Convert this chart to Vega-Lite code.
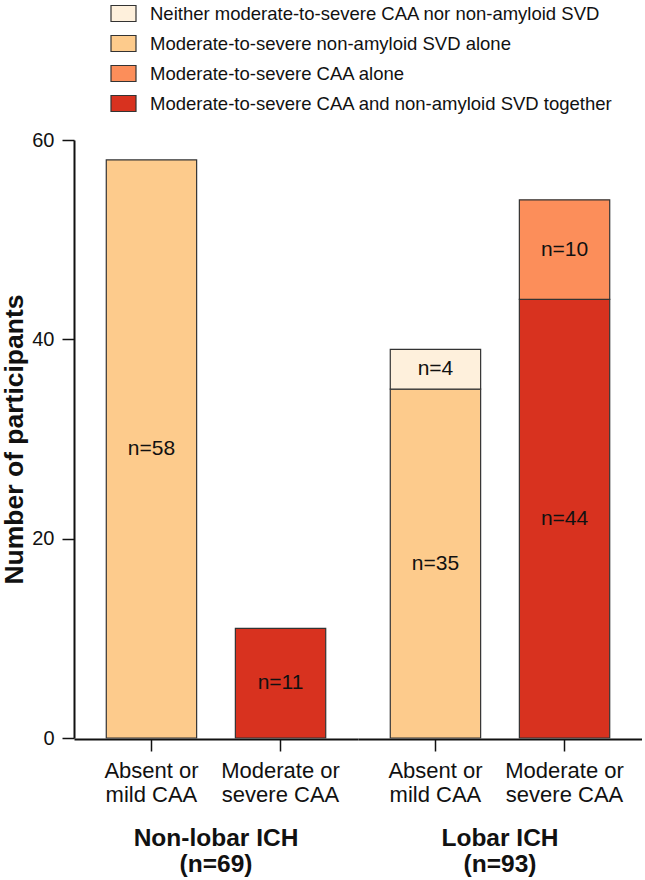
{
  "$schema": "https://vega.github.io/schema/vega-lite/v6.json",
  "padding": {"left": 1, "top": 0, "right": 0, "bottom": 0},
  "background": "white",
  "config": {
    "font": "Liberation Sans",
    "view": {"stroke": null},
    "legend": {
      "orient": "none",
      "legendX": 36,
      "legendY": -140,
      "title": null,
      "labelFont": "Liberation Sans",
      "labelFontSize": 18.5,
      "labelColor": "#111",
      "labelLimit": 0,
      "labelOffset": 13,
      "rowPadding": 6,
      "symbolType": "M-1,-0.64H1V0.64H-1Z",
      "symbolSize": 625,
      "symbolStrokeColor": "#333",
      "symbolStrokeWidth": 1.2,
      "symbolOpacity": 1
    }
  },
  "data": {
    "values": [
      {"group": "Non-lobar ICH|(n=69)", "caa": "Absent or|mild CAA", "cat": "Moderate-to-severe non-amyloid SVD alone", "n": 58, "label": "n=58"},
      {"group": "Non-lobar ICH|(n=69)", "caa": "Moderate or|severe CAA", "cat": "Moderate-to-severe CAA and non-amyloid SVD together", "n": 11, "label": "n=11"},
      {"group": "Lobar ICH|(n=93)", "caa": "Absent or|mild CAA", "cat": "Moderate-to-severe non-amyloid SVD alone", "n": 35, "label": "n=35"},
      {"group": "Lobar ICH|(n=93)", "caa": "Absent or|mild CAA", "cat": "Neither moderate-to-severe CAA nor non-amyloid SVD", "n": 4, "label": "n=4"},
      {"group": "Lobar ICH|(n=93)", "caa": "Moderate or|severe CAA", "cat": "Moderate-to-severe CAA and non-amyloid SVD together", "n": 44, "label": "n=44"},
      {"group": "Lobar ICH|(n=93)", "caa": "Moderate or|severe CAA", "cat": "Moderate-to-severe CAA alone", "n": 10, "label": "n=10"}
    ]
  },
  "transform": [
    {"calculate": "indexof(['Moderate-to-severe CAA and non-amyloid SVD together', 'Moderate-to-severe CAA alone', 'Moderate-to-severe non-amyloid SVD alone', 'Neither moderate-to-severe CAA nor non-amyloid SVD'], datum.cat)", "as": "stackorder"}
  ],
  "facet": {
    "column": {
      "field": "group",
      "type": "nominal",
      "sort": ["Non-lobar ICH|(n=69)", "Lobar ICH|(n=93)"],
      "header": {
        "title": null,
        "labelOrient": "bottom",
        "labelExpr": "split(datum.value, '|')",
        "labelFont": "Liberation Sans",
        "labelFontSize": 24.5,
        "labelFontWeight": "bold",
        "labelColor": "#111",
        "labelLineHeight": 26,
        "labelPadding": 22
      }
    }
  },
  "spacing": 0,
  "spec": {
    "width": 284,
    "height": 598,
    "encoding": {
      "x": {
        "field": "caa",
        "type": "nominal",
        "sort": ["Absent or|mild CAA", "Moderate or|severe CAA"],
        "scale": {"paddingInner": 0.3, "paddingOuter": 0.25},
        "axis": {
          "title": null,
          "labelAngle": 0,
          "labelExpr": "split(datum.value, '|')",
          "labelFont": "Liberation Sans",
          "labelFontSize": 22,
          "labelColor": "#111",
          "labelLineHeight": 24,
          "labelPadding": 9,
          "tickSize": 12,
          "tickColor": "#111",
          "tickWidth": 1.5,
          "domainColor": "#111",
          "domainWidth": 2
        }
      }
    },
    "layer": [
      {
        "mark": {"type": "bar", "stroke": "#333", "strokeWidth": 1.2},
        "encoding": {
          "y": {
            "field": "n",
            "type": "quantitative",
            "stack": "zero",
            "scale": {"domain": [0, 60], "nice": false},
            "axis": {
              "title": "Number of participants",
              "titleFont": "Liberation Sans",
              "titleFontSize": 26.5,
              "titleFontWeight": "bold",
              "titleColor": "#111",
              "titlePadding": 3,
              "values": [0, 20, 40, 60],
              "grid": false,
              "labelFont": "Liberation Sans",
              "labelFontSize": 20,
              "labelColor": "#111",
              "labelPadding": 8,
              "tickSize": 12,
              "tickColor": "#111",
              "tickWidth": 1.5,
              "domainColor": "#111",
              "domainWidth": 2
            }
          },
          "order": {"field": "stackorder", "type": "quantitative"},
          "color": {
            "field": "cat",
            "type": "nominal",
            "scale": {
              "domain": [
                "Neither moderate-to-severe CAA nor non-amyloid SVD",
                "Moderate-to-severe non-amyloid SVD alone",
                "Moderate-to-severe CAA alone",
                "Moderate-to-severe CAA and non-amyloid SVD together"
              ],
              "range": ["#fef0dc", "#fdcb8c", "#fc8e5a", "#d8321f"]
            }
          }
        }
      },
      {
        "mark": {"type": "text", "font": "Liberation Sans", "fontSize": 21, "color": "#111", "baseline": "middle"},
        "encoding": {
          "y": {"field": "n", "type": "quantitative", "stack": "zero", "bandPosition": 0.5},
          "order": {"field": "stackorder", "type": "quantitative"},
          "detail": {"field": "cat"},
          "text": {"field": "label"}
        }
      }
    ]
  }
}
